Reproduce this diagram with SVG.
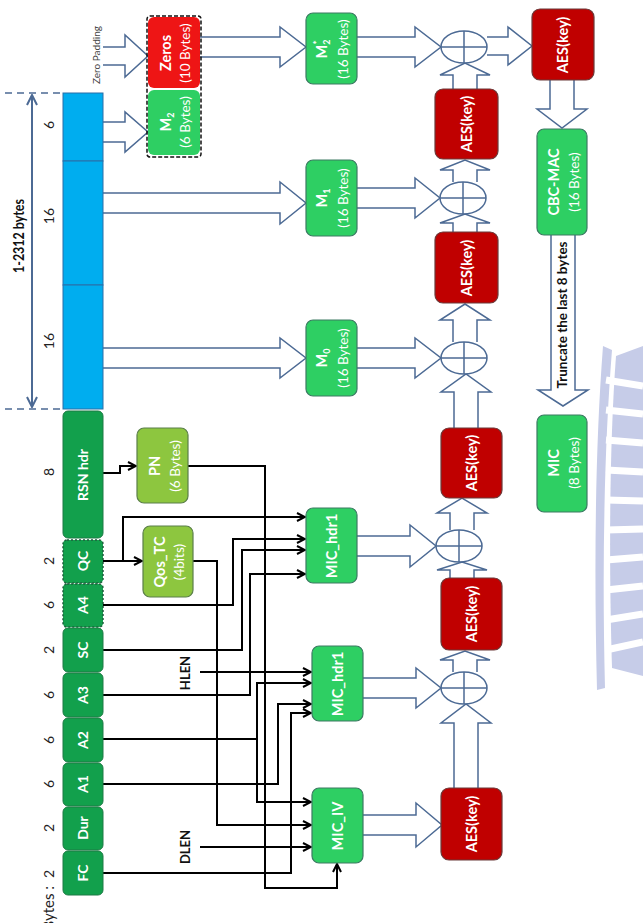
<svg xmlns="http://www.w3.org/2000/svg" width="643" height="923" viewBox="0 0 643 923">
<style>
text{font-family:Lato,"Liberation Sans",sans-serif}
.fld{fill:#12A04C;stroke:#1D7A44;stroke-width:1}
.fdot{fill:#12A04C;stroke:#1E5E3C;stroke-width:1.5;stroke-dasharray:2 2}
.fl{fill:#fff;font-weight:bold;font-size:14px;text-anchor:middle}
.num{fill:#222;font-size:14px;text-anchor:middle}
.gn{fill:#2ECF63;stroke:#3C7A63;stroke-width:1.2}
.lg{fill:#8DC63F;stroke:#5B7F4A;stroke-width:1.2}
.aes{fill:#C00000;stroke:#6B3A3A;stroke-width:1.2}
.wb{fill:#fff;font-weight:bold;font-size:14.5px;text-anchor:middle}
.wn{fill:#fff;font-size:13.5px;text-anchor:middle}
.ba{fill:none;stroke:#4C6A94;stroke-width:1.5}
.xo{fill:#fff;stroke:#4C6A94;stroke-width:1.5}
.xl{stroke:#4C6A94;stroke-width:1.5}
.wire{fill:none;stroke:#000;stroke-width:2;marker-end:url(#ah)}
.lbl{fill:#111;font-weight:bold;font-size:13px;text-anchor:middle}
.wm{fill:#C6CCE8}
.gap{stroke:#fff;stroke-width:7}
</style>
<defs>
<marker id="ah" viewBox="0 0 10 10" refX="9" refY="5" markerWidth="10" markerHeight="10" markerUnits="userSpaceOnUse" orient="auto">
<path d="M1,1 L9,5 L1,9" fill="none" stroke="#000" stroke-width="2"/>
</marker>
<marker id="dm" viewBox="0 0 12 12" refX="11" refY="6" markerWidth="12" markerHeight="12" markerUnits="userSpaceOnUse" orient="auto-start-reverse">
<path d="M1,1 L11,6 L1,11" fill="none" stroke="#4C6A94" stroke-width="2"/>
</marker>
</defs>
<rect width="643" height="923" fill="#fff"/>

<g id="watermark">
<path class="wm" d="M603,346 L612,350 C604,450 602,570 605,688 L597,690 C594,570 595,450 603,346 Z"/>
<path class="wm" d="M616,356 L643,346 L643,676 L612,668 C609,570 609,450 616,356 Z"/>
<path class="gap" d="M606,380 L643,386 M606,410 L643,414 M606,440 L643,443 M606,470 L643,472 M606,500 L643,501 M606,530 L643,529 M606,560 L643,557 M606,590 L643,586 M606,620 L643,614 M606,650 L643,642"/>
</g>

<g id="dimension">
<line x1="5" y1="93" x2="63" y2="93" stroke="#4C6A94" stroke-width="1.5" stroke-dasharray="7 5"/>
<line x1="5" y1="409" x2="63" y2="409" stroke="#4C6A94" stroke-width="1.5" stroke-dasharray="7 5"/>
<line x1="32" y1="95" x2="32" y2="407" stroke="#4C6A94" stroke-width="2" marker-start="url(#dm)" marker-end="url(#dm)"/>
<text x="24" y="236" transform="rotate(-90 24 236)" font-weight="bold" font-size="15" text-anchor="middle" fill="#111" textLength="74" lengthAdjust="spacingAndGlyphs">1-2312 bytes</text>
</g>

<g id="byte-labels">
<text class="num" x="54" y="125" transform="rotate(-90 54 125)">6</text>
<text class="num" x="54" y="216" transform="rotate(-90 54 216)">16</text>
<text class="num" x="54" y="341" transform="rotate(-90 54 341)">16</text>
<text class="num" x="54" y="472" transform="rotate(-90 54 472)">8</text>
<text class="num" x="54" y="561" transform="rotate(-90 54 561)">2</text>
<text class="num" x="54" y="605" transform="rotate(-90 54 605)">6</text>
<text class="num" x="54" y="650" transform="rotate(-90 54 650)">2</text>
<text class="num" x="54" y="695" transform="rotate(-90 54 695)">6</text>
<text class="num" x="54" y="740" transform="rotate(-90 54 740)">6</text>
<text class="num" x="54" y="784" transform="rotate(-90 54 784)">6</text>
<text class="num" x="54" y="828" transform="rotate(-90 54 828)">2</text>
<text class="num" x="54" y="874" transform="rotate(-90 54 874)">2</text>
<text x="54" y="886" transform="rotate(-90 54 886)" font-size="15" fill="#222" text-anchor="end">Bytes :</text>
<text x="100" y="55" transform="rotate(-90 100 55)" font-size="10" fill="#444" text-anchor="middle">Zero Padding</text>
<text class="lbl" x="190" y="673" transform="rotate(-90 190 673)">HLEN</text>
<text class="lbl" x="190" y="847" transform="rotate(-90 190 847)">DLEN</text>
</g>

<g id="connectors">
<path class="ba" d="M103,47 H125 V35 L148,56 L125,77 V65 H103"/>
<path class="ba" d="M103,122 H125 V112 L148,132 L125,152 V142 H103"/>
<path class="ba" d="M200,37 H280 V27 L306,47 L280,67 V57 H200"/>
<path class="ba" d="M103,193 H280 V182 L306,203 L280,224 V213 H103"/>
<path class="ba" d="M103,348 H280 V338 L306,358 L280,378 V368 H103"/>
<path class="ba" d="M357,37 H415 V27 L441,47 L415,67 V57 H357"/>
<path class="ba" d="M357,188 H415 V178 L440,198 L415,218 V208 H357"/>
<path class="ba" d="M357,348 H415 V338 L441,358 L415,378 V368 H357"/>
<path class="ba" d="M357,536 H410 V525 L436,546 L410,567 V556 H357"/>
<path class="ba" d="M363,678 H416 V668 L441,688 L416,708 V698 H363"/>
<path class="ba" d="M363,815 H416 V803 L442,825 L416,847 V835 H363"/>
<path class="ba" d="M487,37 H508 V27 L532,46 L508,65 V55 H487"/>
<path class="ba" d="M453,89 V75 H440 L465,63 L490,75 H477 V89"/>
<path class="ba" d="M453,182 V170 H440 L465,160 L490,170 H477 V182"/>
<path class="ba" d="M453,232 V223 H440 L465,214 L490,223 H477 V232"/>
<path class="ba" d="M453,342 V320 H440 L465,304 L490,320 H477 V342"/>
<path class="ba" d="M454,428 V392 H441 L466,374 L491,392 H478 V428"/>
<path class="ba" d="M450,530 V513 H437 L462,498 L487,513 H474 V530"/>
<path class="ba" d="M450,578 V570 H437 L462,562 L487,570 H474 V578"/>
<path class="ba" d="M453,672 V660 H440 L465,651 L490,660 H477 V672"/>
<path class="ba" d="M454,788 V723 H441 L466,704 L491,723 H478 V788"/>
<path class="ba" d="M550,80 V109 H537 L562,128 L587,109 H574 V80"/>
<path class="ba" d="M551,235 V390 H538 L563,406 L588,390 H575 V235"/>

<path class="wire" d="M103,473 H120 V466 H136"/>
<path class="wire" d="M103,561 H142"/>
<path class="wire" d="M123,561 V517 H305"/>
<path class="wire" d="M188,466 H265 V888 H337 V864"/>
<path class="wire" d="M193,561 H217 V825 H311"/>
<path class="wire" d="M103,605 H233 V539 H305"/>
<path class="wire" d="M103,650 H242 V550 H305"/>
<path class="wire" d="M103,695 H250 V574 H305"/>
<path class="wire" d="M200,672 H311"/>
<path class="wire" d="M103,739 H257 V683 H311"/>
<path class="wire" d="M257,739 V802 H311"/>
<path class="wire" d="M103,784 H278 V704 H311"/>
<path class="wire" d="M103,873 H291 V713 H311"/>
<path class="wire" d="M200,847 H311"/>
<text x="567" y="315" transform="rotate(-90 567 315)" font-weight="bold" font-size="13.5" text-anchor="middle" fill="#111">Truncate the last 8 bytes</text>
</g>

<g id="payload">
<rect x="63" y="93" width="40" height="68" fill="#00ADEF" stroke="#2A6FA8"/>
<rect x="63" y="161" width="40" height="124" fill="#00ADEF" stroke="#2A6FA8"/>
<rect x="63" y="285" width="40" height="124" fill="#00ADEF" stroke="#2A6FA8"/>
</g>

<g id="RSN_hdr"><rect class="fld" x="63" y="411" width="40" height="127" rx="5"/><text class="fl" x="88" y="475" transform="rotate(-90 88 475)">RSN hdr</text></g>
<g id="QC"><rect class="fdot" x="63" y="540" width="40" height="43" rx="4"/><text class="fl" x="88" y="561" transform="rotate(-90 88 561)">QC</text></g>
<g id="A4"><rect class="fdot" x="63" y="584" width="40" height="43" rx="4"/><text class="fl" x="88" y="605" transform="rotate(-90 88 605)">A4</text></g>
<g id="SC"><rect class="fld" x="63" y="628" width="40" height="44" rx="5"/><text class="fl" x="88" y="650" transform="rotate(-90 88 650)">SC</text></g>
<g id="A3"><rect class="fld" x="63" y="673" width="40" height="44" rx="5"/><text class="fl" x="88" y="695" transform="rotate(-90 88 695)">A3</text></g>
<g id="A2"><rect class="fld" x="63" y="718" width="40" height="44" rx="5"/><text class="fl" x="88" y="740" transform="rotate(-90 88 740)">A2</text></g>
<g id="A1"><rect class="fld" x="63" y="763" width="40" height="43" rx="5"/><text class="fl" x="88" y="784" transform="rotate(-90 88 784)">A1</text></g>
<g id="Dur"><rect class="fld" x="63" y="807" width="40" height="43" rx="5"/><text class="fl" x="88" y="828" transform="rotate(-90 88 828)">Dur</text></g>
<g id="FC"><rect class="fld" x="63" y="851" width="40" height="44" rx="5"/><text class="fl" x="88" y="873" transform="rotate(-90 88 873)">FC</text></g>

<g id="PN"><rect class="lg" x="137" y="428" width="51" height="75" rx="7"/>
<text class="wb" x="160" y="466" transform="rotate(-90 160 466)">PN</text>
<text class="wn" x="180" y="466" transform="rotate(-90 180 466)">(6 Bytes)</text></g>
<g id="Qos_TC"><rect class="lg" x="143" y="526" width="50" height="71" rx="7"/>
<text class="wb" x="165" y="562" transform="rotate(-90 165 562)">Qos_TC</text>
<text class="wn" x="184" y="562" transform="rotate(-90 184 562)">(4bits)</text></g>

<g id="Zeros"><rect x="148" y="17" width="52" height="71" rx="6" fill="#EE1515"/>
<text class="wb" x="171" y="53" transform="rotate(-90 171 53)">Zeros</text>
<text class="wn" x="190" y="53" transform="rotate(-90 190 53)">(10 Bytes)</text></g>
<g id="M2"><rect x="148" y="90" width="52" height="65" rx="6" fill="#2ECF63"/>
<text class="wb" x="171" y="122" transform="rotate(-90 171 122)">M<tspan font-size="9" dy="3">2</tspan></text>
<text class="wn" x="190" y="122" transform="rotate(-90 190 122)">(6 Bytes)</text></g>
<rect id="pad-block" x="147" y="16" width="54" height="141" rx="3" fill="none" stroke="#111" stroke-width="1.5" stroke-dasharray="4 2"/>

<g id="M2star"><rect class="gn" x="306" y="13" width="51" height="71" rx="7"/>
<text class="wb" x="327" y="49" transform="rotate(-90 327 49)">M<tspan font-size="9" dy="3">2</tspan><tspan font-size="10" dx="-5" dy="-10">*</tspan></text>
<text class="wn" x="348" y="49" transform="rotate(-90 348 49)">(16 Bytes)</text></g>
<g id="M1"><rect class="gn" x="306" y="160" width="51" height="76" rx="7"/>
<text class="wb" x="327" y="198" transform="rotate(-90 327 198)">M<tspan font-size="9" dy="3">1</tspan></text>
<text class="wn" x="348" y="198" transform="rotate(-90 348 198)">(16 Bytes)</text></g>
<g id="M0"><rect class="gn" x="306" y="320" width="51" height="76" rx="7"/>
<text class="wb" x="327" y="358" transform="rotate(-90 327 358)">M<tspan font-size="9" dy="3">0</tspan></text>
<text class="wn" x="348" y="358" transform="rotate(-90 348 358)">(16 Bytes)</text></g>
<g id="MIC_hdr1_a"><rect class="gn" x="306" y="508" width="51" height="75" rx="7"/>
<text class="wb" x="337" y="546" transform="rotate(-90 337 546)">MIC_hdr1</text></g>
<g id="MIC_hdr1_b"><rect class="gn" x="312" y="646" width="51" height="75" rx="7"/>
<text class="wb" x="343" y="684" transform="rotate(-90 343 684)">MIC_hdr1</text></g>
<g id="MIC_IV"><rect class="gn" x="312" y="788" width="51" height="75" rx="7"/>
<text class="wb" x="343" y="826" transform="rotate(-90 343 826)">MIC_IV</text></g>

<g id="XOR1"><ellipse class="xo" cx="464" cy="47" rx="23" ry="16"/><path class="xl" d="M441,47 H487 M464,31 V63"/></g>
<g id="XOR2"><ellipse class="xo" cx="463" cy="198" rx="23" ry="16"/><path class="xl" d="M440,198 H486 M463,182 V214"/></g>
<g id="XOR3"><ellipse class="xo" cx="464" cy="358" rx="23" ry="16"/><path class="xl" d="M441,358 H487 M464,342 V374"/></g>
<g id="XOR4"><ellipse class="xo" cx="459" cy="546" rx="23" ry="16"/><path class="xl" d="M436,546 H482 M459,530 V562"/></g>
<g id="XOR5"><ellipse class="xo" cx="464" cy="688" rx="23" ry="16"/><path class="xl" d="M441,688 H487 M464,672 V704"/></g>

<g id="AES1"><rect class="aes" x="435" y="89" width="63" height="70" rx="8"/><text class="wb" x="472" y="124" transform="rotate(-90 472 124)">AES(key)</text></g>
<g id="AES2"><rect class="aes" x="435" y="232" width="63" height="71" rx="8"/><text class="wb" x="472" y="268" transform="rotate(-90 472 268)">AES(key)</text></g>
<g id="AES3"><rect class="aes" x="441" y="428" width="61" height="70" rx="8"/><text class="wb" x="477" y="463" transform="rotate(-90 477 463)">AES(key)</text></g>
<g id="AES4"><rect class="aes" x="441" y="578" width="61" height="72" rx="8"/><text class="wb" x="477" y="614" transform="rotate(-90 477 614)">AES(key)</text></g>
<g id="AES5"><rect class="aes" x="441" y="788" width="61" height="72" rx="8"/><text class="wb" x="477" y="824" transform="rotate(-90 477 824)">AES(key)</text></g>
<g id="AES6"><rect class="aes" x="532" y="9" width="62" height="71" rx="8"/><text class="wb" x="568" y="45" transform="rotate(-90 568 45)">AES(key)</text></g>

<g id="CBC-MAC"><rect class="gn" x="537" y="129" width="50" height="106" rx="7"/>
<text class="wb" x="559" y="182" transform="rotate(-90 559 182)">CBC-MAC</text>
<text class="wn" x="579" y="182" transform="rotate(-90 579 182)">(16 Bytes)</text></g>
<g id="MIC"><rect class="gn" x="537" y="415" width="50" height="97" rx="7"/>
<text class="wb" x="559" y="463" transform="rotate(-90 559 463)">MIC</text>
<text class="wn" x="579" y="463" transform="rotate(-90 579 463)">(8 Bytes)</text></g>
</svg>
